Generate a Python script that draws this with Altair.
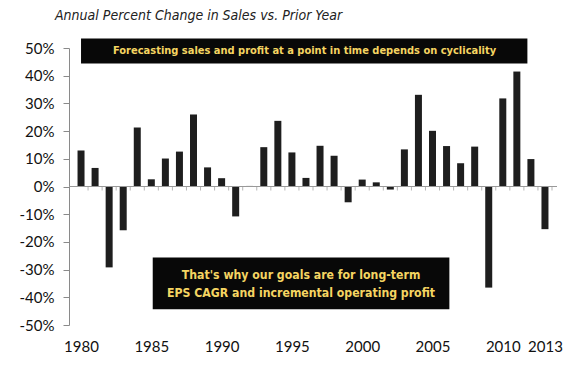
import altair as alt
import pandas as pd

years = list(range(1980, 2014))
pct_change = [13.0, 6.7, -29.2, -15.8, 21.3, 2.6, 10.1, 12.6, 26.0, 6.9,
              3.0, -10.8, 0.2, 14.2, 23.7, 12.3, 3.1, 14.7, 11.1, -5.7,
              2.5, 1.5, -1.1, 13.4, 33.1, 20.1, 14.6, 8.4, 14.4, -36.5,
              31.8, 41.5, 9.9, -15.4]
x_labels = [1980, 1985, 1990, 1995, 2000, 2005, 2010, 2013]
y_ticks = [-50, -40, -30, -20, -10, 0, 10, 20, 30, 40, 50]

title_text = "Annual Percent Change in Sales vs. Prior Year"
note_top = ["Forecasting sales and profit at a point in time depends on cyclicality"]
note_bottom = ["That's why our goals are for long-term",
               "EPS CAGR and incremental operating profit"]

# annotation boxes, in year / percent units
box_x1 = [1980.0, 1985.1]
box_x2 = [2011.75, 2006.2]
box_y1 = [53.4, -25.6]
box_y2 = [44.4, -44.3]
top_x = [1995.9]
top_y = [48.8]
bottom_x = [1995.65, 1995.65]
bottom_y = [-32.0, -38.5]

df = pd.DataFrame({"year": years, "pct": pct_change})
bounds = pd.DataFrame({"b": [y + 0.5 for y in years]})
boxes = pd.DataFrame({"x1": box_x1, "x2": box_x2, "y1": box_y1, "y2": box_y2})
notes_top = pd.DataFrame({"t": note_top, "x": top_x, "y": top_y})
notes_bottom = pd.DataFrame({"t": note_bottom, "x": bottom_x, "y": bottom_y})

font = "Lato"
narrow = "DejaVu Sans Condensed"
yellow = "#f5d562"

xscale = alt.Scale(domain=[1979.5, 2013.5], nice=False, zero=False)
yscale = alt.Scale(domain=[-50, 50], nice=False)

bars = alt.Chart(df).mark_bar(color="#1e1e1e", size=7).encode(
    x=alt.X("year:Q", scale=xscale,
            axis=alt.Axis(values=x_labels, labelExpr="toString(datum.value)", title=None,
                          domain=False, ticks=False, grid=False, labelPadding=14,
                          labelFont=font, labelFontSize=15, labelColor="#111",
                          labelFlush=False, labelOverlap=False)),
    y=alt.Y("pct:Q", scale=yscale,
            axis=alt.Axis(values=y_ticks, labelExpr="datum.value + '%'", title=None,
                          grid=False, domainColor="#8a8a8a", tickColor="#8a8a8a",
                          tickSize=6, labelPadding=9, labelFont=font, labelFontSize=15,
                          labelColor="#111", labelOverlap=False, labelFlush=False,
                          labelBound=False)),
)

zero = alt.Chart(df).mark_rule(color="#999999", strokeWidth=1).encode(
    y=alt.Y(datum=0, axis=None))

ticks = alt.Chart(bounds).mark_tick(color="#999999", size=4, thickness=1,
                                     orient="vertical", yOffset=2).encode(
    x=alt.X("b:Q", axis=None), y=alt.Y(datum=0, axis=None))

rects = alt.Chart(boxes).mark_rect(color="#080808", clip=False).encode(
    x=alt.X("x1:Q", axis=None), x2="x2", y=alt.Y("y1:Q", axis=None), y2="y2")

texts_top = alt.Chart(notes_top).mark_text(color=yellow, font=narrow,
                                           fontWeight="bold", fontSize=11, align="center",
                                           baseline="middle").encode(
    x=alt.X("x:Q", axis=None), y=alt.Y("y:Q", axis=None), text="t:N")

texts_bottom = alt.Chart(notes_bottom).mark_text(color=yellow, font=narrow,
                                                 fontWeight="bold", fontSize=12.2,
                                                 align="center", baseline="middle").encode(
    x=alt.X("x:Q", axis=None), y=alt.Y("y:Q", axis=None), text="t:N")

chart = alt.layer(bars, zero, ticks, rects, texts_top, texts_bottom).resolve_axis(
    x="independent", y="independent"
).properties(
    width=488, height=277,
    autosize=alt.AutoSizeParams(type="none"),
    padding={"left": 61, "top": 40, "right": 15, "bottom": 38},
    title=alt.TitleParams(title_text, anchor="start", frame="group", dx=-14, dy=0.5,
                          offset=5, baseline="alphabetic", font=narrow,
                          fontStyle="italic", fontWeight="normal", fontSize=14,
                          color="#222222"),
).configure_view(stroke=None).configure_axis(labelOverlap=False)

chart.save("out.html", embed_options={"renderer": "svg", "actions": False})
